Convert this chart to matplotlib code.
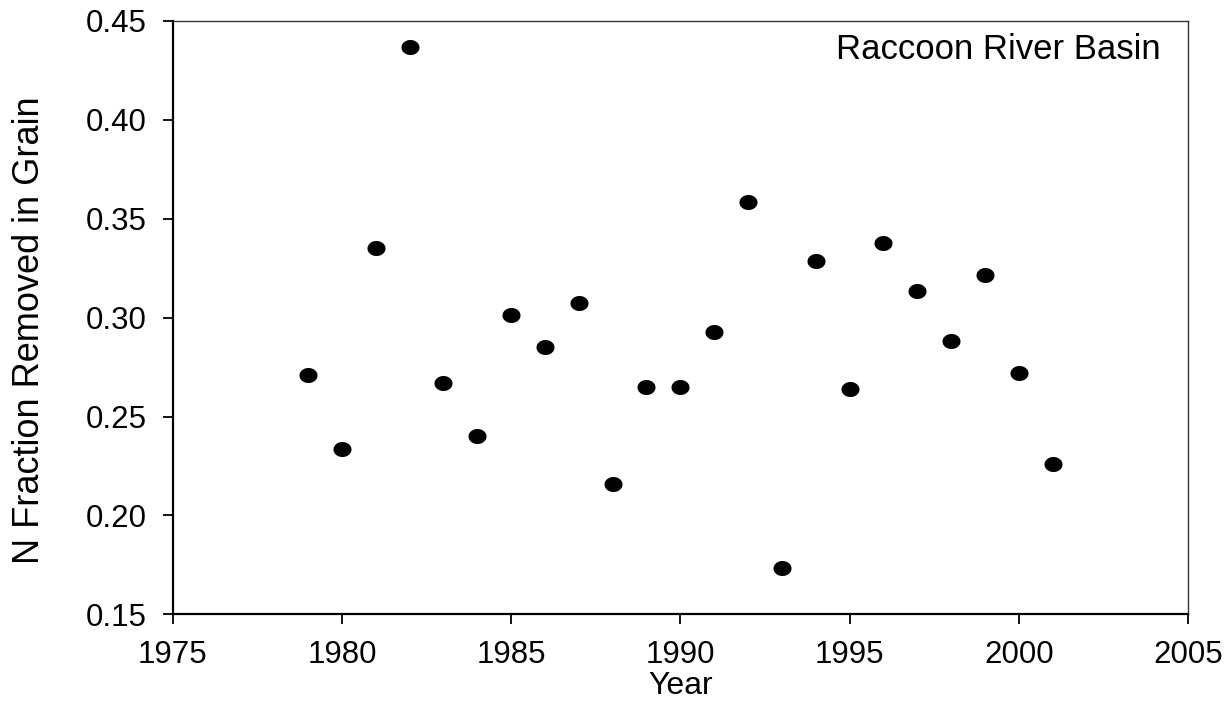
import matplotlib
matplotlib.use("Agg")
import matplotlib.pyplot as plt
import numpy as np
from matplotlib.path import Path
from matplotlib.markers import MarkerStyle

plt.rcParams['font.family'] = ['Liberation Sans', 'DejaVu Sans']

years = [1979, 1980, 1981, 1982, 1983, 1984, 1985, 1986, 1987, 1988, 1989,
         1990, 1991, 1992, 1993, 1994, 1995, 1996, 1997, 1998, 1999, 2000, 2001]
n_fraction = [0.2708, 0.2334, 0.3352, 0.4370, 0.2671, 0.2403, 0.3012, 0.2852,
              0.3075, 0.2160, 0.2648, 0.2648, 0.2927, 0.3585, 0.1733, 0.3286,
              0.2638, 0.3377, 0.3136, 0.2880, 0.3214, 0.2722, 0.2260]
x_ticks = [1975, 1980, 1985, 1990, 1995, 2000, 2005]
y_ticks = [0.15, 0.20, 0.25, 0.30, 0.35, 0.40, 0.45]

fig = plt.figure(figsize=(12.31, 7.26), dpi=100)
ax = fig.add_axes([0.1403, 0.1539, 0.965 - 0.1403, 0.9711 - 0.1539])

# elliptical marker (wider than tall)
t = np.linspace(0, 2 * np.pi, 60)
verts = np.column_stack([1.2 * np.cos(t), np.sin(t)])
ell = MarkerStyle(Path(verts, closed=True))

ax.plot(years, n_fraction, linestyle='none', marker=ell, markersize=13.0,
        color='black', markeredgewidth=0)

ax.set_xlim(1975, 2005)
ax.set_ylim(0.15, 0.45)
ax.set_xticks(x_ticks)
ax.set_xticklabels([str(v) for v in x_ticks])
ax.set_yticks(y_ticks)
ax.set_yticklabels([f"{v:.2f}" for v in y_ticks])

ax.tick_params(axis='both', direction='out', length=7, width=1.3,
               labelsize=22.5, color='black')
ax.tick_params(axis='y', pad=12)
ax.tick_params(axis='x', pad=11.3)

for side in ['left', 'bottom']:
    ax.spines[side].set_linewidth(1.6)
for side in ['top', 'right']:
    ax.spines[side].set_linewidth(1.0)
    ax.spines[side].set_color('#333333')

ax.set_xlabel('Year', fontsize=23, labelpad=1)
ax.set_ylabel('N Fraction Removed in Grain', fontsize=26)
ax.yaxis.set_label_coords(-0.124, 0.479)

ax.text(0.9735, 0.936, 'Raccoon River Basin', transform=ax.transAxes,
        ha='right', va='baseline', fontsize=25)

fig.savefig('out.png', dpi=100)
